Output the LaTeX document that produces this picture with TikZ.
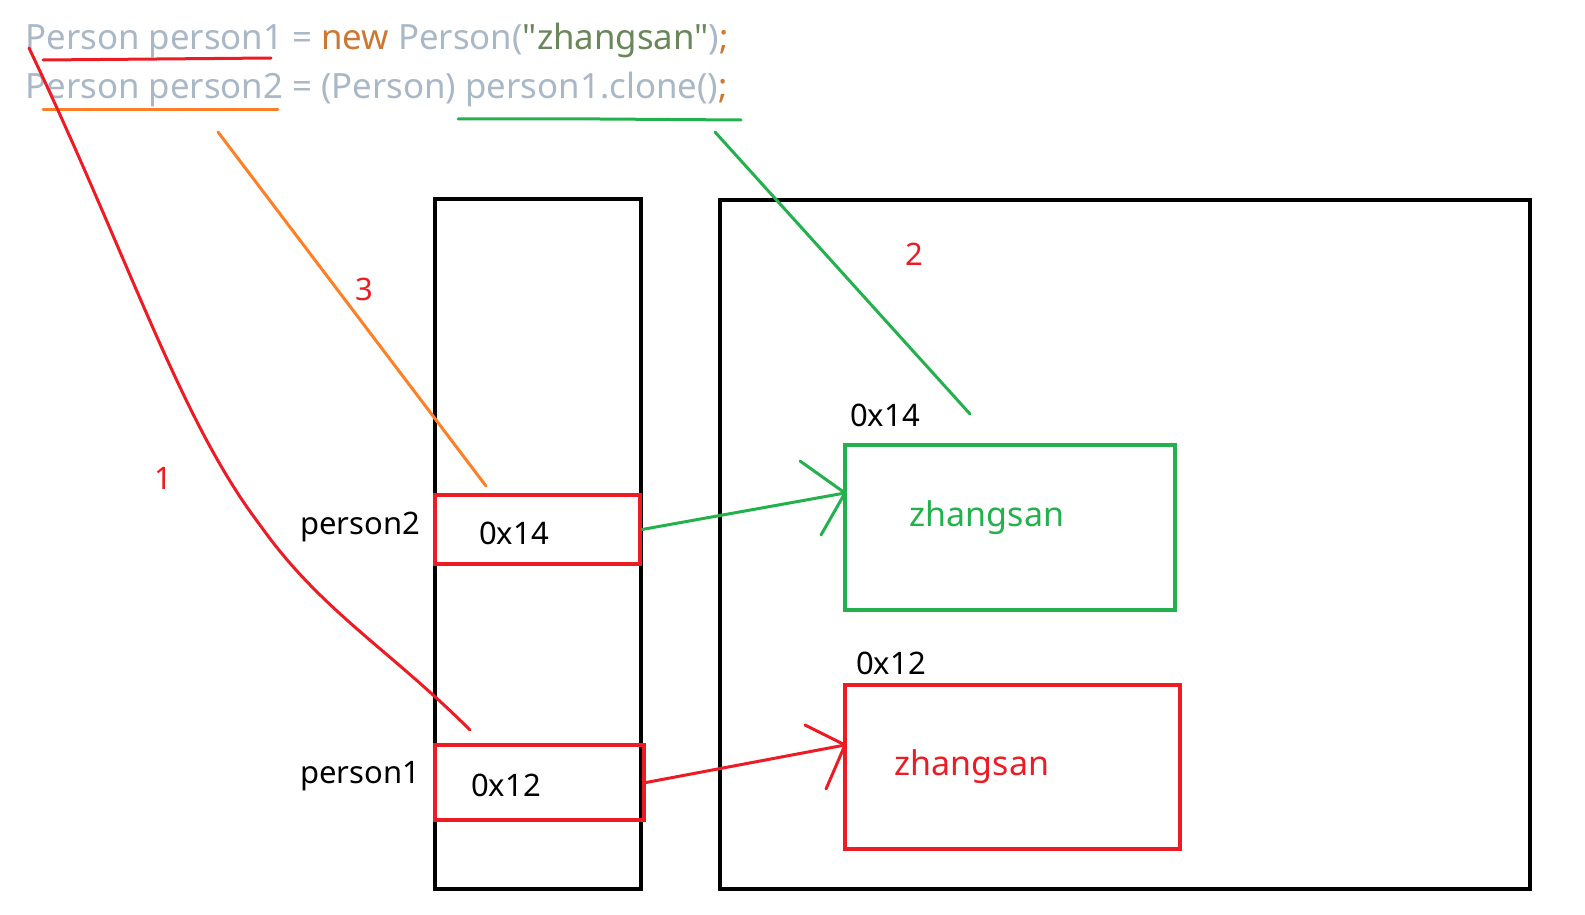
\documentclass[tikz,border=0pt]{standalone}
\usepackage{fontspec}
\setmainfont{Noto Sans}
\newfontfamily\codefont{Noto Sans}
\definecolor{pred}{HTML}{ED1C24}
\definecolor{pgreen}{HTML}{22B14C}
\definecolor{porange}{HTML}{FF7F27}
\definecolor{cgray}{HTML}{A9B7C6}
\definecolor{ckey}{HTML}{CC7832}
\definecolor{cstr}{HTML}{6A8759}
\begin{document}
\begin{tikzpicture}[x=0.5pt,y=-0.5pt,
  frame/.style={draw=black,line width=2pt},
  cell/.style={draw=pred,line width=2pt},
  obj/.style={line width=2pt},
  ink/.style={line width=1.5pt,line cap=round},
  lbl/.style={font=\fontsize{15.5}{18}\selectfont,inner sep=0pt},
  big/.style={font=\fontsize{17}{20}\selectfont,inner sep=0pt},
  num/.style={font=\fontsize{15.5}{18}\selectfont,text=pred,inner sep=0pt},
  code/.style={font=\codefont\fontsize{17.4}{20}\selectfont,inner sep=0pt,anchor=base west}]
\useasboundingbox (0,0) rectangle (1585,915);
% code lines
\node[code] (line1) at (25,50) {\color{cgray}Person person1 = \color{ckey}new \color{cgray}Person(\color{cstr}"zhangsan"\color{cgray})\color{ckey};};
\node[code] (line2) at (25,98) {\color{cgray}Person person2 = (Person) person1.clone()\color{ckey};};
% underlines
\coordinate (u1a) at (43,60); \coordinate (u1b) at (271,58);
\coordinate (u2a) at (43,110); \coordinate (u2b) at (278,110);
\coordinate (u3a) at (458,119); \coordinate (u3m) at (600,119); \coordinate (u3b) at (741,120);
\draw[ink,pred] (u1a) -- (u1b);
\draw[ink,porange] (u2a) -- (u2b);
\draw[ink,pgreen] (u3a) -- (u3m) -- (u3b);
% stack and heap
\node[frame,minimum width=206pt*0.5,minimum height=690pt*0.5,inner sep=0pt] (stack) at (538,544) {};
\node[frame,minimum width=810pt*0.5,minimum height=689pt*0.5,inner sep=0pt] (heap) at (1125,544.5) {};
% stack cells
\node[cell,minimum width=205pt*0.5,minimum height=69pt*0.5,inner sep=0pt] (cell2) at (537.5,529.5) {};
\node[cell,minimum width=209pt*0.5,minimum height=75pt*0.5,inner sep=0pt] (cell1) at (539.5,782.5) {};
\node[lbl] (v2) at (514,533) {0x14};
\node[lbl] (v1) at (506,785) {0x12};
\node[lbl] (n2) at (360,527) {person2};
\node[lbl] (n1) at (360,776) {person1};
% heap objects
\node[obj,draw=pgreen,minimum width=330pt*0.5,minimum height=165pt*0.5,inner sep=0pt] (o2) at (1010,527.5) {};
\node[obj,draw=pred,minimum width=335pt*0.5,minimum height=164pt*0.5,inner sep=0pt] (o1) at (1012.5,767) {};
\node[big,text=pgreen] (z2) at (987,518) {zhangsan};
\node[big,text=pred] (z1) at (972,767) {zhangsan};
\node[lbl] (a2) at (885,415) {0x14};
\node[lbl] (a1) at (891,663) {0x12};
% step numbers
\node[num] (s1) at (163,478) {1};
\node[num] (s2) at (914,254) {2};
\node[num] (s3) at (364,289) {3};
% red curve 1
\coordinate (r0) at (29,48);
\coordinate (r1) at (470,730);
\draw[ink,pred] (r0) .. controls (130,260) and (180,420) .. (260,525) .. controls (320,610) and (390,650) .. (r1);
% orange line 3
\coordinate (o0) at (218,132);
\coordinate (o3) at (486,486);
\draw[ink,porange] (o0) -- (o3);
% green line 2
\coordinate (g0) at (715,132);
\coordinate (g1) at (970,414);
\draw[ink,pgreen] (g0) -- (g1);
% arrows
\coordinate (ga) at (845,493);
\coordinate (gh1) at (800,461);
\coordinate (gh2) at (821,535);
\draw[ink,pgreen] (cell2.east) -- (ga);
\draw[ink,pgreen] (gh1) -- (ga) -- (gh2);
\coordinate (ra) at (845,745);
\coordinate (rh1) at (805,725);
\coordinate (rh2) at (826,789);
\draw[ink,pred] (cell1.east) -- (ra);
\draw[ink,pred] (rh1) -- (ra) -- (rh2);
\end{tikzpicture}
\end{document}
